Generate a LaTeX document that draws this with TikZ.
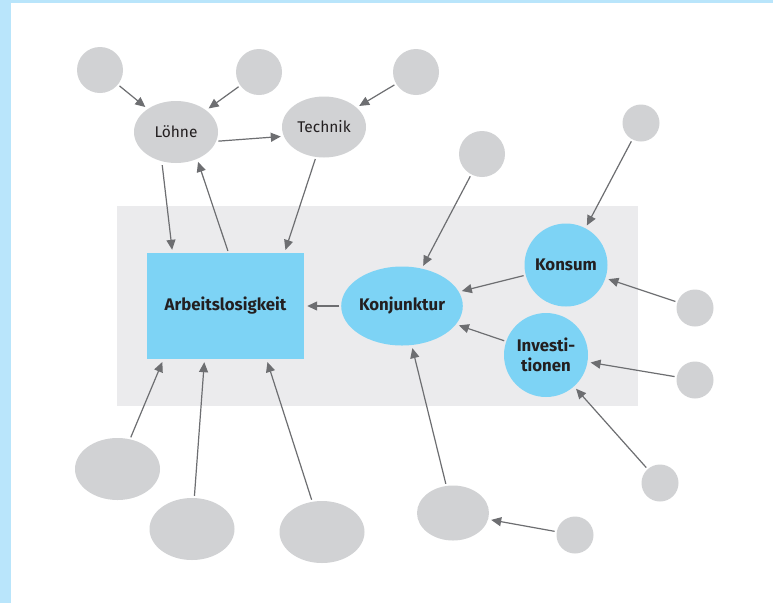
\documentclass[tikz,border=0pt]{standalone}
\usepackage{fontspec}
\setmainfont{Fira Sans}
\usetikzlibrary{arrows.meta,shapes.geometric}
\definecolor{bandblue}{HTML}{B9E5FB}
\definecolor{panelgray}{HTML}{EBEBED}
\definecolor{nodegray}{HTML}{D1D2D4}
\definecolor{nodeblue}{HTML}{7DD3F5}
\definecolor{linkgray}{HTML}{6D6E71}
\definecolor{textdark}{HTML}{231F20}
\begin{document}
\begin{tikzpicture}[x=1pt,y=-1pt,
  gdot/.style={circle, fill=nodegray, inner sep=0pt, minimum size=#1},
  gblob/.style 2 args={ellipse, fill=nodegray, inner sep=0pt, minimum width=#1, minimum height=#2},
  named/.style={text=textdark, font=\fontsize{15.5}{18}\selectfont},
  keynode/.style={fill=nodeblue, inner sep=0pt, text=textdark, font=\bfseries\fontsize{16.8}{19.5}\selectfont},
  link/.style={draw=linkgray, line width=1.2pt, -{Triangle[length=10pt,width=9pt]},
               shorten >=3pt, shorten <=2pt}]

% page, side bands and central panel
\useasboundingbox (0,0) rectangle (773,603);
\fill[white] (0,0) rectangle (773,603);
\fill[bandblue] (0,0) rectangle (11,603);
\fill[bandblue] (0,0) rectangle (773,2.5);
\fill[panelgray] (117,206) rectangle (638,406);

% upper cluster
\node[gdot=46pt] (c1) at (100,70) {};
\node[gdot=46pt] (c2) at (259,72) {};
\node[gdot=46pt] (c3) at (416,72) {};
\node[gblob={84pt}{62pt}, named] (loehne) at (176,132) {Löhne};
\node[gblob={84pt}{61pt}, named] (technik) at (324,127) {Technik};

% core nodes
\node[keynode, rectangle, minimum width=157pt, minimum height=106pt] (rect) at (225.5,306) {Arbeitslosigkeit};
\node[keynode, ellipse, minimum width=118pt, minimum height=79pt] (konj) at (402,306) {Konjunktur};
\node[keynode, circle, minimum size=83pt] (konsum) at (566,265) {Konsum};
\node[keynode, circle, minimum size=84pt, align=center] (invest) at (546,355) {Investi-\\tionen};

% outer influences
\node[gdot=46pt] (ak) at (482,154) {};
\node[gdot=37pt] (tr) at (641,123) {};
\node[gdot=37pt] (r1) at (695,308) {};
\node[gdot=37pt] (r2) at (695,380) {};
\node[gdot=37pt] (b6) at (660,483) {};
\node[gdot=37pt] (b5) at (575,535) {};
\node[gblob={72pt}{55pt}] (b4) at (453,513) {};
\node[gblob={85pt}{62pt}] (b1) at (117.5,469) {};
\node[gblob={85pt}{62pt}] (b2) at (192,529) {};
\node[gblob={85pt}{62pt}] (b3) at (322,532) {};

% connectors
\draw[link] (c1) -- (loehne);
\draw[link] (c2) -- (loehne);
\draw[link] (c3) -- (technik);
\draw[link] (loehne.-13) -- (technik.-167);
\draw[link] ([xshift=-14pt]loehne.south) -- ([xshift=-53pt]rect.north);
\draw[link] ([xshift=3pt]rect.north) -- (loehne.-52);
\draw[link] (technik.-105) -- ([xshift=59pt]rect.north);
\draw[link] (konj) -- (rect);
\draw[link] (konsum) -- (konj);
\draw[link] (invest) -- (konj);
\draw[link] (ak) -- (konj);
\draw[link] (tr) -- (konsum);
\draw[link] (r1) -- (konsum);
\draw[link] (r2) -- (invest);
\draw[link] (b6) -- (invest);
\draw[link] (b5) -- (b4);
\draw[link] (b4) -- (konj);
\draw[link] (b1) -- ([xshift=-62pt]rect.south);
\draw[link] (b2) -- ([xshift=-21pt]rect.south);
\draw[link] (b3) -- ([xshift=41pt]rect.south);
\end{tikzpicture}
\end{document}
